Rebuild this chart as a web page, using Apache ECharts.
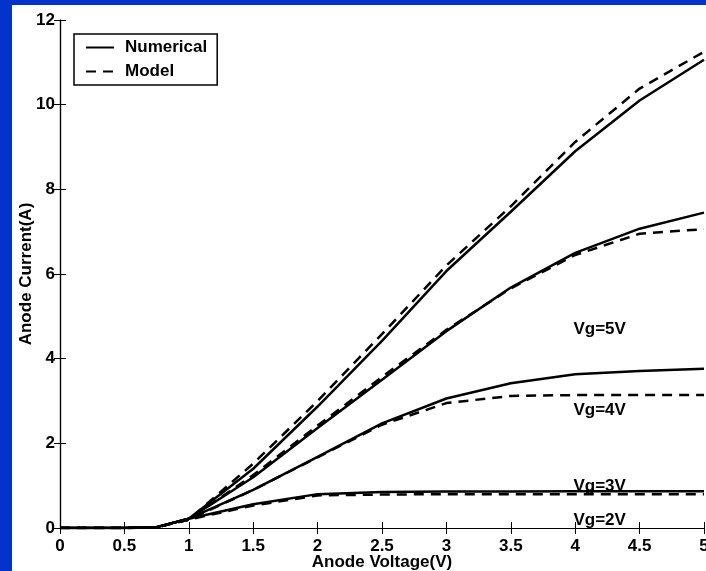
<!DOCTYPE html>
<html>
<head>
<meta charset="utf-8">
<script src="https://cdn.jsdelivr.net/npm/echarts@6/dist/echarts.min.js"></script>
<style>
  html, body { margin: 0; padding: 0; background: #0433cc; }
  #chart { position: absolute; left: 12px; top: 5px; width: 694px; height: 566px; background: #ffffff; }
</style>
</head>
<body>
<div id="chart"></div>
<script>
// anode voltage (V)
var voltage = [0, 0.5, 0.75, 1, 1.5, 2, 2.5, 3, 3.5, 4, 4.5, 5];

// anode current (A), numerical vs model, per gate voltage
var numVg5 = [0, 0, 0.02, 0.22, 1.4, 2.87, 4.42, 6.07, 7.47, 8.9, 10.1, 11.06];
var modVg5 = [0, 0, 0.02, 0.2, 1.52, 3.0, 4.58, 6.2, 7.6, 9.12, 10.38, 11.25];
var numVg4 = [0, 0, 0.02, 0.22, 1.2, 2.36, 3.5, 4.65, 5.68, 6.5, 7.07, 7.45];
var modVg4 = [0, 0, 0.02, 0.2, 1.25, 2.42, 3.57, 4.68, 5.66, 6.45, 6.95, 7.06];
var numVg3 = [0, 0, 0.02, 0.22, 0.9, 1.68, 2.47, 3.06, 3.42, 3.63, 3.71, 3.76];
var modVg3 = [0, 0, 0.02, 0.2, 0.9, 1.67, 2.44, 2.95, 3.12, 3.14, 3.14, 3.14];
var numVg2 = [0, 0, 0.02, 0.22, 0.56, 0.8, 0.85, 0.86, 0.86, 0.87, 0.87, 0.87];
var modVg2 = [0, 0, 0.02, 0.2, 0.53, 0.77, 0.79, 0.8, 0.8, 0.8, 0.8, 0.8];

// text annotations (as printed on the figure)
var vgLabels = ['Vg=5V', 'Vg=4V', 'Vg=3V', 'Vg=2V'];
var vgLabelX = [4.19, 4.19, 4.19, 4.19];
var vgLabelY = [4.70, 2.78, 0.99, 0.19];

var font = 'Liberation Sans, Arial, Helvetica, sans-serif';

function pairs(ys) {
  return voltage.map(function (v, i) { return [v, ys[i]]; });
}

function curve(name, ys, dashed) {
  return {
    name: name,
    type: 'line',
    data: pairs(ys),
    symbol: 'none',
    z: 3,
    lineStyle: { color: '#000', width: 2.5, type: dashed ? [10, 7] : 'solid' },
    itemStyle: { color: '#000' }
  };
}

var chart = echarts.init(document.getElementById('chart'));

var tickStyle = { show: true, inside: true, length: 6, lineStyle: { color: '#000', width: 1 } };
var lineAxis = { show: true, lineStyle: { color: '#000', width: 1.2 } };
var labelStyle = { color: '#000', fontSize: 17, fontWeight: 'bold', fontFamily: font };

var option = {
  animation: false,
  grid: { left: 48, top: 15, right: 2, bottom: 43, outerBoundsMode: 'none', containLabel: false },
  legend: {
    data: ['Numerical', 'Model'],
    orient: 'vertical',
    left: 62,
    top: 29,
    padding: [5, 10, 5, 11],
    itemGap: 7,
    itemWidth: 28,
    itemHeight: 14,
    borderColor: '#000',
    borderWidth: 1.5,
    itemStyle: { opacity: 0, borderWidth: 0 },
    textStyle: { color: '#000', fontSize: 17, fontWeight: 'bold', fontFamily: font, padding: [0, 0, 0, 6] }
  },
  xAxis: [{
    type: 'value',
    min: 0, max: 5, interval: 0.5,
    name: 'Anode Voltage(V)',
    nameLocation: 'middle',
    nameGap: 26,
    nameMoveOverlap: false,
    nameTextStyle: labelStyle,
    axisLine: lineAxis,
    axisTick: tickStyle,
    axisLabel: { color: '#000', fontSize: 17, fontWeight: 'bold', fontFamily: font, margin: 10 },
    splitLine: { show: false }
  }, {
    type: 'value',
    position: 'top',
    min: 0, max: 5, interval: 0.5,
    axisLine: lineAxis,
    axisTick: tickStyle,
    axisLabel: { show: false },
    splitLine: { show: false }
  }],
  yAxis: [{
    type: 'value',
    min: 0, max: 12, interval: 2,
    name: 'Anode Current(A)',
    nameLocation: 'middle',
    nameGap: 25,
    nameMoveOverlap: false,
    nameTextStyle: labelStyle,
    axisLine: lineAxis,
    axisTick: tickStyle,
    axisLabel: { color: '#000', fontSize: 17, fontWeight: 'bold', fontFamily: font, margin: 5 },
    splitLine: { show: false }
  }, {
    type: 'value',
    position: 'right',
    min: 0, max: 12, interval: 2,
    axisLine: lineAxis,
    axisTick: tickStyle,
    axisLabel: { show: false },
    splitLine: { show: false }
  }],
  series: [
    curve('Numerical', numVg5, false),
    curve('Model', modVg5, true),
    curve('Numerical', numVg4, false),
    curve('Model', modVg4, true),
    curve('Numerical', numVg3, false),
    curve('Model', modVg3, true),
    curve('Numerical', numVg2, false),
    curve('Model', modVg2, true),
    {
      name: 'labels',
      type: 'scatter',
      symbolSize: 0,
      silent: true,
      z: 1,
      itemStyle: { opacity: 1 },
      data: vgLabels.map(function (t, i) { return { name: t, value: [vgLabelX[i], vgLabelY[i]] }; }),
      label: {
        show: true,
        position: 'inside',
        formatter: '{b}',
        color: '#000',
        fontSize: 17,
        fontWeight: 'bold',
        fontFamily: font
      }
    }
  ]
};

chart.setOption(option);
</script>
</body>
</html>
